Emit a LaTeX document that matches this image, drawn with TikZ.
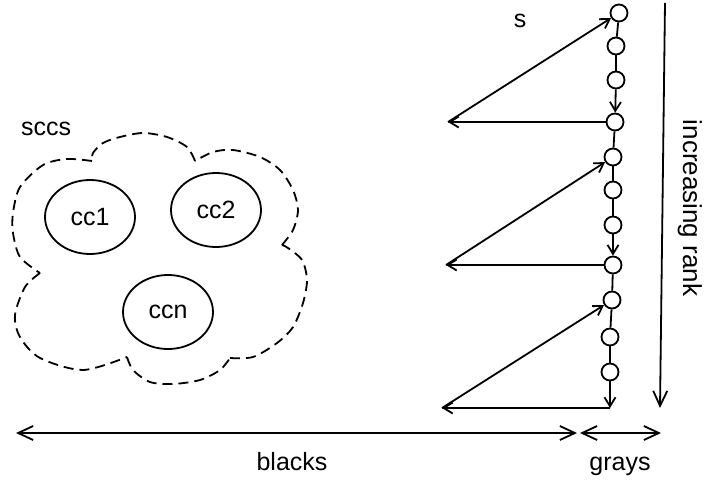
\documentclass[tikz,border=0pt]{standalone}
\usepackage{fontspec}
\setmainfont{Liberation Sans}
\usetikzlibrary{arrows.meta,shapes.geometric}
\begin{document}
\begin{tikzpicture}[x=1pt,y=-1pt,
  line width=1.8pt,
  lbl/.style={font=\fontsize{25}{30}\selectfont,inner sep=0pt},
  vtx/.style={circle,draw,minimum size=17pt,inner sep=0pt},
  comp/.style={ellipse,draw,minimum width=90pt,minimum height=74pt,inner sep=0pt,font=\fontsize{25}{30}\selectfont},
  sarr/.style={-{Straight Barb[length=9pt,width=11pt]}},
  barr/.style={-{Straight Barb[length=15pt,width=14pt]}},
  dbarr/.style={{Straight Barb[length=15pt,width=14pt]}-{Straight Barb[length=15pt,width=14pt]}},
  cloudline/.style={dash pattern=on 10pt off 6pt}
]
\useasboundingbox (0,0) rectangle (705,480);

% chain of vertices
\node[vtx] (c1) at (619,13) {};
\node[vtx] (c2) at (616,46) {};
\node[vtx] (c3) at (616,80) {};
\node[vtx] (c4) at (615,122) {};
\node[vtx] (c5) at (613,157) {};
\node[vtx] (c6) at (613,190) {};
\node[vtx] (c7) at (613,225) {};
\node[vtx] (c8) at (613,265) {};
\node[vtx] (c9) at (612,300) {};
\node[vtx] (c10) at (610,337) {};
\node[vtx] (c11) at (610,372) {};
\coordinate (q) at (610,408);

\coordinate (p1) at (448,122);
\coordinate (p2) at (446,265);
\coordinate (p3) at (442,408);

\draw (c1) -- (c2);
\draw (c2) -- (c3);
\draw[sarr] (c3) -- (c4);
\draw (c4) -- (c5);
\draw (c5) -- (c6);
\draw (c6) -- (c7);
\draw[sarr] (c7) -- (c8);
\draw (c8) -- (c9);
\draw (c9) -- (c10);
\draw (c10) -- (c11);
\draw[sarr] (c11) -- (q);

\draw[sarr] (c4) -- (p1);
\draw[sarr] (p1) -- (c1);
\draw[sarr] (c8) -- (p2);
\draw[sarr] (p2) -- (c5);
\draw[sarr] (q) -- (p3);
\draw[sarr] (p3) -- (c9);

\node[lbl,anchor=base] (s) at (520,27) {s};

% increasing rank
\coordinate (rt) at (665,3);
\coordinate (rb) at (660,408);
\draw[barr] (rt) -- (rb);
\node[lbl,rotate=-90,anchor=base,font=\fontsize{26}{30}\selectfont] (rank) at (683,208) {increasing rank};

% bottom arrows
\coordinate (bl) at (16,433);
\coordinate (br) at (577,433);
\coordinate (gl) at (580,433);
\coordinate (gr) at (661,433);
\draw[dbarr] (bl) -- (br);
\draw[dbarr] (gl) -- (gr);
\node[lbl,anchor=base] (blacks) at (292,470) {blacks};
\node[lbl,anchor=base] (grays) at (620,470) {grays};

% cloud
\node[lbl,anchor=base] (sccs) at (46,135) {sccs};
\draw[cloudline]
  plot[smooth] coordinates {(92,161) (67,159) (43,165) (20,187) (13,213) (13,233) (20,257) (40,273)}
  plot[smooth] coordinates {(40,273) (25,287) (15,315) (20,337) (40,358) (83,370) (127,357)}
  plot[smooth] coordinates {(127,357) (133,370) (150,382) (173,384) (200,380) (220,370) (230,358)}
  plot[smooth] coordinates {(230,358) (253,357) (277,343) (293,327) (303,303) (307,280) (302,260) (288,248) (282,245)}
  plot[smooth] coordinates {(282,245) (293,230) (298,210) (293,190) (280,170) (260,157) (233,150) (213,152) (195,161)}
  plot[smooth] coordinates {(195,161) (187,147) (167,137) (143,133) (120,137) (103,143) (93,153) (92,161)};

\node[comp] (cc1) at (90,217) {cc1};
\node[comp] (cc2) at (216,210) {cc2};
\node[comp] (ccn) at (168,312) {ccn};
\end{tikzpicture}
\end{document}
